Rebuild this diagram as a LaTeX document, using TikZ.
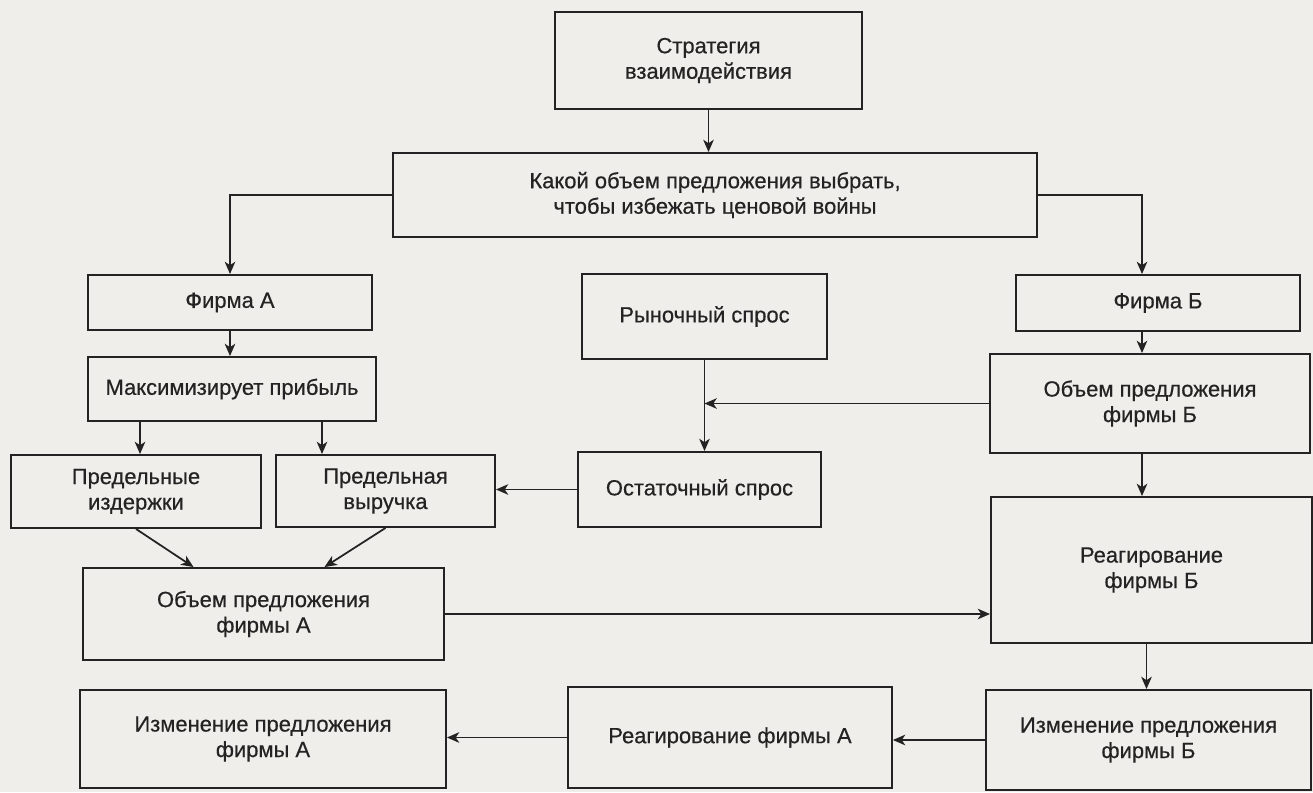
\documentclass[tikz,border=0pt]{standalone}
\usepackage{fontspec}
\setmainfont{Liberation Sans}[BoldFont=Liberation Sans, BoldFeatures={FakeBold=0.5}]
\usetikzlibrary{arrows,arrows.meta,calc}
\definecolor{paper}{RGB}{239,238,234}
\definecolor{ink}{RGB}{35,35,35}
\tikzset{
	blk/.style={draw=ink, line width=1.1pt, align=center, inner sep=2pt, text=ink, font=\fontsize{12.5}{14.5}\selectfont\bfseries},
	arr/.style={draw=ink, line width=1pt, -{Stealth[length=7pt, width=6pt, inset=2pt]}},
}

\begin{document}
\begin{tikzpicture}[x=0.02cm, y=-0.02cm]
	\fill[paper] (0,0) rectangle (1313,792);
	\useasboundingbox (0,0) rectangle (1313,792);
	\node[blk, minimum width=6.14cm, minimum height=1.94cm] (S) at (708.5,60.5) {Стратегия\\взаимодействия};
	\node[blk, minimum width=12.88cm, minimum height=1.68cm] (Q) at (715,195) {Какой объем предложения выбрать,\\чтобы избежать ценовой войны};
	\node[blk, minimum width=5.68cm, minimum height=1.10cm] (FA) at (230,302.5) {Фирма А};
	\node[blk, minimum width=5.76cm, minimum height=1.28cm] (MP) at (232,389) {Максимизирует прибыль};
	\node[blk, minimum width=5.00cm, minimum height=1.46cm] (PI) at (136,491.5) {Предельные\\издержки};
	\node[blk, minimum width=4.38cm, minimum height=1.44cm] (PV) at (385.5,491) {Предельная\\выручка};
	\node[blk, minimum width=7.22cm, minimum height=1.84cm] (OA) at (263.5,614) {Объем предложения\\фирмы А};
	\node[blk, minimum width=7.32cm, minimum height=1.96cm] (IA) at (263,739) {Изменение предложения\\фирмы А};
	\node[blk, minimum width=4.90cm, minimum height=1.70cm] (RS) at (704.5,316.5) {Рыночный спрос};
	\node[blk, minimum width=4.86cm, minimum height=1.50cm] (OS) at (699.5,489.5) {Остаточный спрос};
	\node[blk, minimum width=6.48cm, minimum height=2.02cm] (RA) at (730,737.5) {Реагирование фирмы А};
	\node[blk, minimum width=5.68cm, minimum height=1.12cm] (FB) at (1158,303) {Фирма Б};
	\node[blk, minimum width=6.40cm, minimum height=1.98cm] (OB) at (1150,403.5) {Объем предложения\\фирмы Б};
	\node[blk, minimum width=6.42cm, minimum height=2.92cm] (RB) at (1151.5,570) {Реагирование\\фирмы Б};
	\node[blk, minimum width=6.50cm, minimum height=2.00cm] (IB) at (1148.5,740) {Изменение предложения\\фирмы Б};
	\path[every edge/.style=arr]
		(S.south) edge (S.south |- Q.north)
		(FA.south) edge (FA.south |- MP.north)
		(RS.south) edge (RS.south |- OS.north)
		(OB.west) edge (OB.west -| RS.south)
		(OS.west) edge (OS.west -| PV.east)
		(OA.east) edge (OA.east -| RB.west)
		(IB.west) edge (IB.west -| RA.east)
		(RA.west) edge (RA.west -| IA.east)
		(PI.south) edge ($(OA.north) + (-70,0)$)
		(PV.south) edge ($(OA.north) + (61,0)$);
	\draw[arr] (Q.west) -| (FA.north);
	\draw[arr] (Q.east) -| ($(FB.north) + (-16,0)$);
	\foreach \x in {-92, 90} \draw[arr] ($(MP.south) + (\x,0)$) -- ($(MP.south |- PI.north) + (\x,0)$);
	\draw[arr] ($(FB.south) + (-16,0)$) -- ($(FB.south |- OB.north) + (-16,0)$);
	\draw[arr] ($(OB.south) + (-8,0)$) -- ($(OB.south |- RB.north) + (-8,0)$);
	\draw[arr] ($(RB.south) + (-5,0)$) -- ($(RB.south |- IB.north) + (-5,0)$);
\end{tikzpicture}
\end{document}
